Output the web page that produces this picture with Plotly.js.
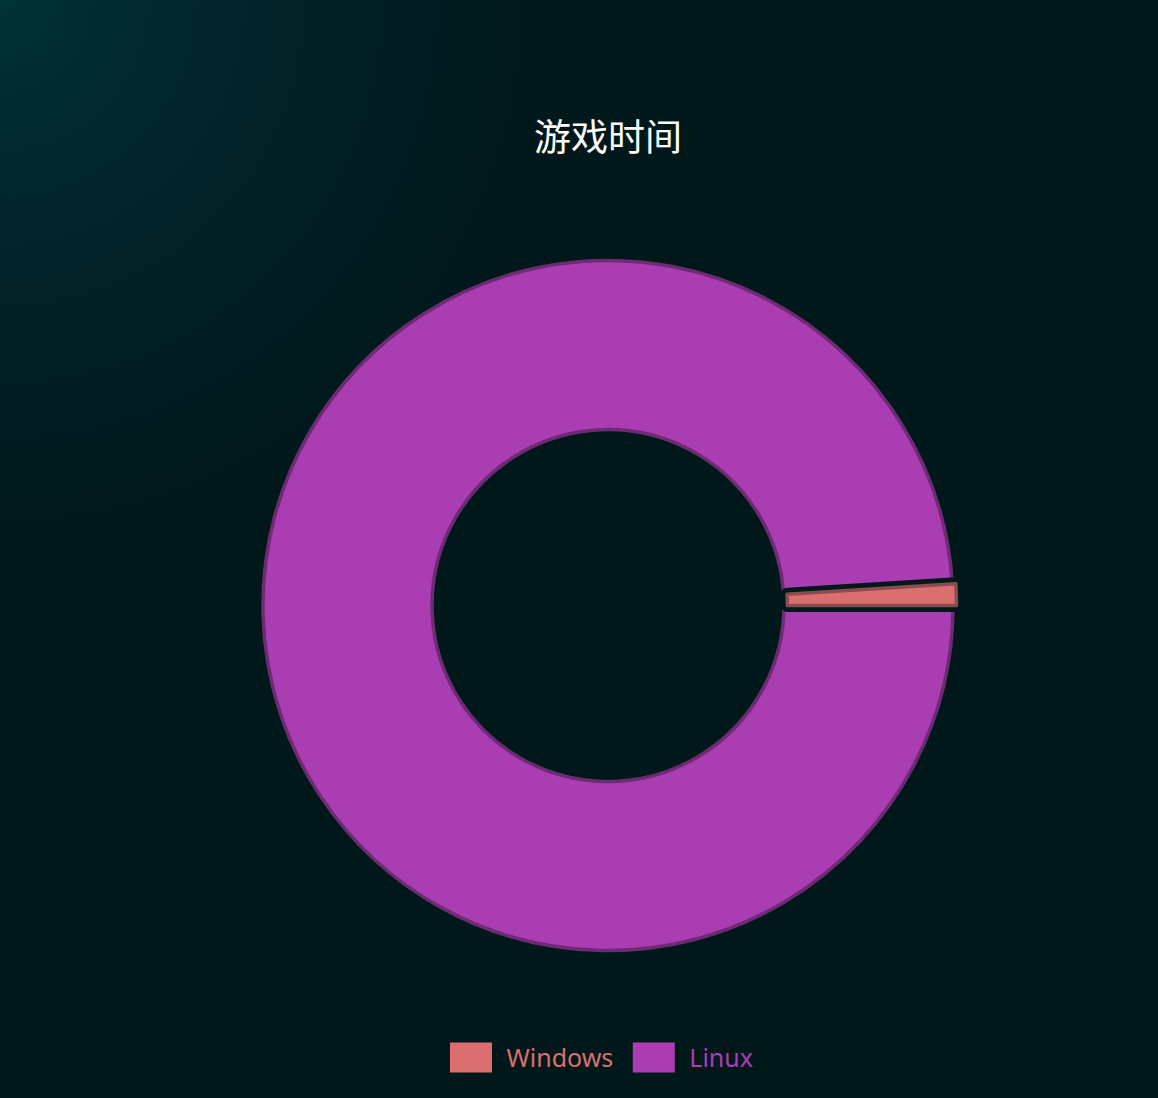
<!DOCTYPE html>
<html>
<head>
<meta charset="utf-8">
<script src="https://cdn.plot.ly/plotly-3.0.1.min.js"></script>
<style>
  html, body { margin: 0; padding: 0; }
  body {
    width: 1158px; height: 1098px; overflow: hidden;
    background: radial-gradient(circle at 0 0, #003236 0%, #01232a 15%, #01181b 35%, #01181b 100%);
  }
  #chart { width: 1158px; height: 1098px; }
</style>
</head>
<body>
<div id="chart"></div>
<script>
// data
const categories = ['Windows', 'Linux'];
const hours = [1, 99];
const fillColors = ['#db6e6e', '#ab3db3'];
const edgeColors = ['#8a4c4f', '#6c2b72'];
const pulls = [0.01, 0];
const bg = '#01181b';
const clear = 'rgba(0,0,0,0)';

// legend text takes the slice colour
const labels = categories.map((c, i) => '<span style="color:' + fillColors[i] + '">' + c + '</span>');

// first slice ends at 3 o'clock, going clockwise
const total = hours.reduce((a, b) => a + b, 0);
const startAngle = 90 - 360 * hours[0] / total;

const base = {
  type: 'pie',
  labels: labels,
  values: hours,
  hole: 0.51,
  sort: false,
  direction: 'clockwise',
  rotation: startAngle,
  pull: pulls,
  textinfo: 'none'
};

// full donut
const mainPie = Object.assign({}, base, {
  hoverinfo: 'label+value+percent',
  marker: { colors: fillColors, line: { color: edgeColors, width: 3.5 } }
});

// dark gap around the small slice
const gapPie = Object.assign({}, base, {
  showlegend: false,
  hoverinfo: 'skip',
  marker: { colors: [bg, clear], line: { color: [bg, clear], width: [13, 0] } }
});

// small slice again, on top of the gap
const smallPie = Object.assign({}, base, {
  showlegend: false,
  hoverinfo: 'skip',
  marker: { colors: [fillColors[0], clear], line: { color: [edgeColors[0], clear], width: [3.5, 0] } }
});

const layout = {
  width: 1158,
  height: 1098,
  margin: { l: 58, r: 0, t: 257, b: 144 },
  paper_bgcolor: 'rgba(0,0,0,0)',
  plot_bgcolor: 'rgba(0,0,0,0)',
  font: { family: '"Noto Sans", "Noto Sans CJK SC", sans-serif', color: '#ffffff' },
  title: {
    text: '游戏时间',
    font: { family: '"Noto Sans CJK SC", sans-serif', size: 37, color: '#ffffff' },
    x: 0.5, xref: 'paper', xanchor: 'center',
    y: 1 - 138 / 1098, yref: 'container', yanchor: 'middle'
  },
  showlegend: true,
  legend: {
    orientation: 'h',
    x: 0.49, xanchor: 'center',
    y: -0.149, yanchor: 'middle',
    font: { size: 25, color: '#db6e6e' },
    itemwidth: 61,
    bgcolor: 'rgba(0,0,0,0)'
  }
};

Plotly.newPlot('chart', [mainPie, gapPie, smallPie], layout, { displayModeBar: false, staticPlot: true }).then(() => {
  // bigger swatches, like the original legend
  document.querySelectorAll('.legend .legendpoints path').forEach(p => {
    const t = p.getAttribute('transform') || '';
    p.setAttribute('transform', t + ' scale(3.5,2.5)');
    p.style.strokeWidth = '0';
  });
});
</script>
</body>
</html>
